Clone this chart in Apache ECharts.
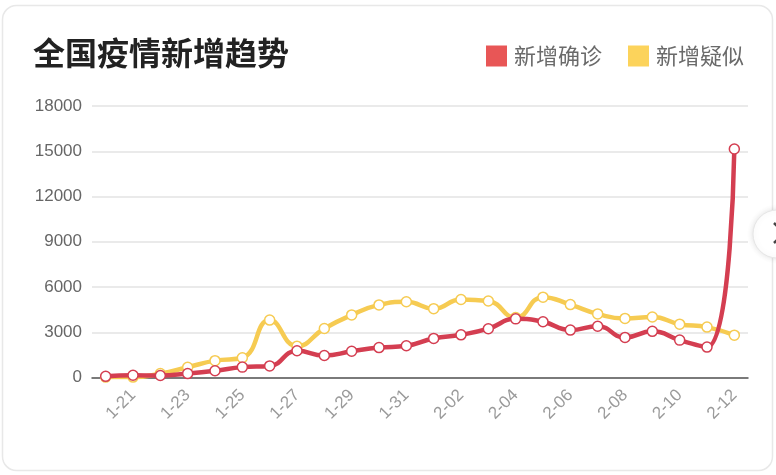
<!DOCTYPE html>
<html>
<head>
<meta charset="utf-8">
<script src="https://cdn.jsdelivr.net/npm/echarts@6/dist/echarts.min.js"></script>
<style>
html,body{margin:0;padding:0;background:#fff;}
#c{width:776px;height:475px;}
</style>
</head>
<body>
<div id="c"></div>
<script>
var dates = ['1-20','1-21','1-22','1-23','1-24','1-25','1-26','1-27','1-28','1-29','1-30','1-31','2-01','2-02','2-03','2-04','2-05','2-06','2-07','2-08','2-09','2-10','2-11','2-12'];
var confirmed = [77,149,131,259,444,688,769,1771,1459,1737,1982,2102,2590,2829,3235,3887,3694,3143,3399,2656,3062,2478,2015,15152];
var suspected = [27,26,257,680,1118,1309,3806,2077,3248,4148,4812,5019,4562,5173,5072,3971,5328,4833,4214,3916,4008,3536,3342,2807];
var yTicks = {min:0, max:18000, interval:3000};

var FONT = '"Noto Sans CJK SC", "Noto Sans", sans-serif';
var NUMFONT = '"Liberation Sans", Arial, sans-serif';
var chart = echarts.init(document.getElementById('c'));
chart.setOption({
  animation:false,
  backgroundColor:'#fff',
  textStyle:{fontFamily:FONT},
  graphic:[
    {type:'rect', z:-10, shape:{x:2.5,y:5.5,width:770,height:465,r:14}, style:{fill:'#fff',stroke:'#e8e8e8',lineWidth:1.5}},
    {type:'circle', z:10, shape:{cx:777,cy:234,r:24}, style:{fill:'#fff',stroke:'#e6e6e6',lineWidth:1,shadowBlur:6,shadowColor:'rgba(0,0,0,0.12)'}},
    {type:'polyline', z:11, shape:{points:[[774,223],[784,233],[774,243]]}, style:{stroke:'#444',lineWidth:2.5,fill:null}}
  ],
  title:{
    text:'全国疫情新增趋势', left:28, top:32,
    textStyle:{fontSize:32, fontWeight:'bold', color:'#222', fontFamily:FONT}
  },
  legend:{
    right:27, top:40, itemWidth:21, itemHeight:21, itemGap:26,
    textStyle:{fontSize:22, color:'#6a6a6a', fontFamily:FONT, padding:[0,0,0,2]},
    data:[
      {name:'新增确诊', icon:'rect', itemStyle:{color:'#e85656', borderWidth:0}},
      {name:'新增疑似', icon:'rect', itemStyle:{color:'#fcd35b', borderWidth:0}}
    ]
  },
  grid:{left:92, right:28, top:106, bottom:97.5},
  xAxis:{
    type:'category', data:dates, boundaryGap:true,
    axisLine:{lineStyle:{color:'#555', width:1.5}},
    axisTick:{show:false},
    axisLabel:{rotate:45, fontSize:17, color:'#9a9a9a', margin:15, interval:function(i){return i%2===1;}, fontFamily:NUMFONT}
  },
  yAxis:{
    type:'value', min:yTicks.min, max:yTicks.max, interval:yTicks.interval,
    axisLine:{show:false}, axisTick:{show:false},
    axisLabel:{fontSize:17, color:'#666', margin:10, fontFamily:NUMFONT, formatter:function(v){return String(v);}},
    splitLine:{lineStyle:{color:'#e3e3e3', width:1.5}}
  },
  series:[
    {name:'新增疑似', type:'line', data:suspected, smooth:true, symbol:'circle', symbolSize:10, z:2,
      lineStyle:{color:'#f6cb52', width:4.5},
      itemStyle:{color:'#fff', borderColor:'#f6cb52', borderWidth:1.5}},
    {name:'新增确诊', type:'line', data:confirmed, smooth:true, symbol:'circle', symbolSize:10, z:3,
      lineStyle:{color:'#d43e51', width:4.5},
      itemStyle:{color:'#fff', borderColor:'#d43e51', borderWidth:1.5}}
  ]
});
</script>
</body>
</html>
